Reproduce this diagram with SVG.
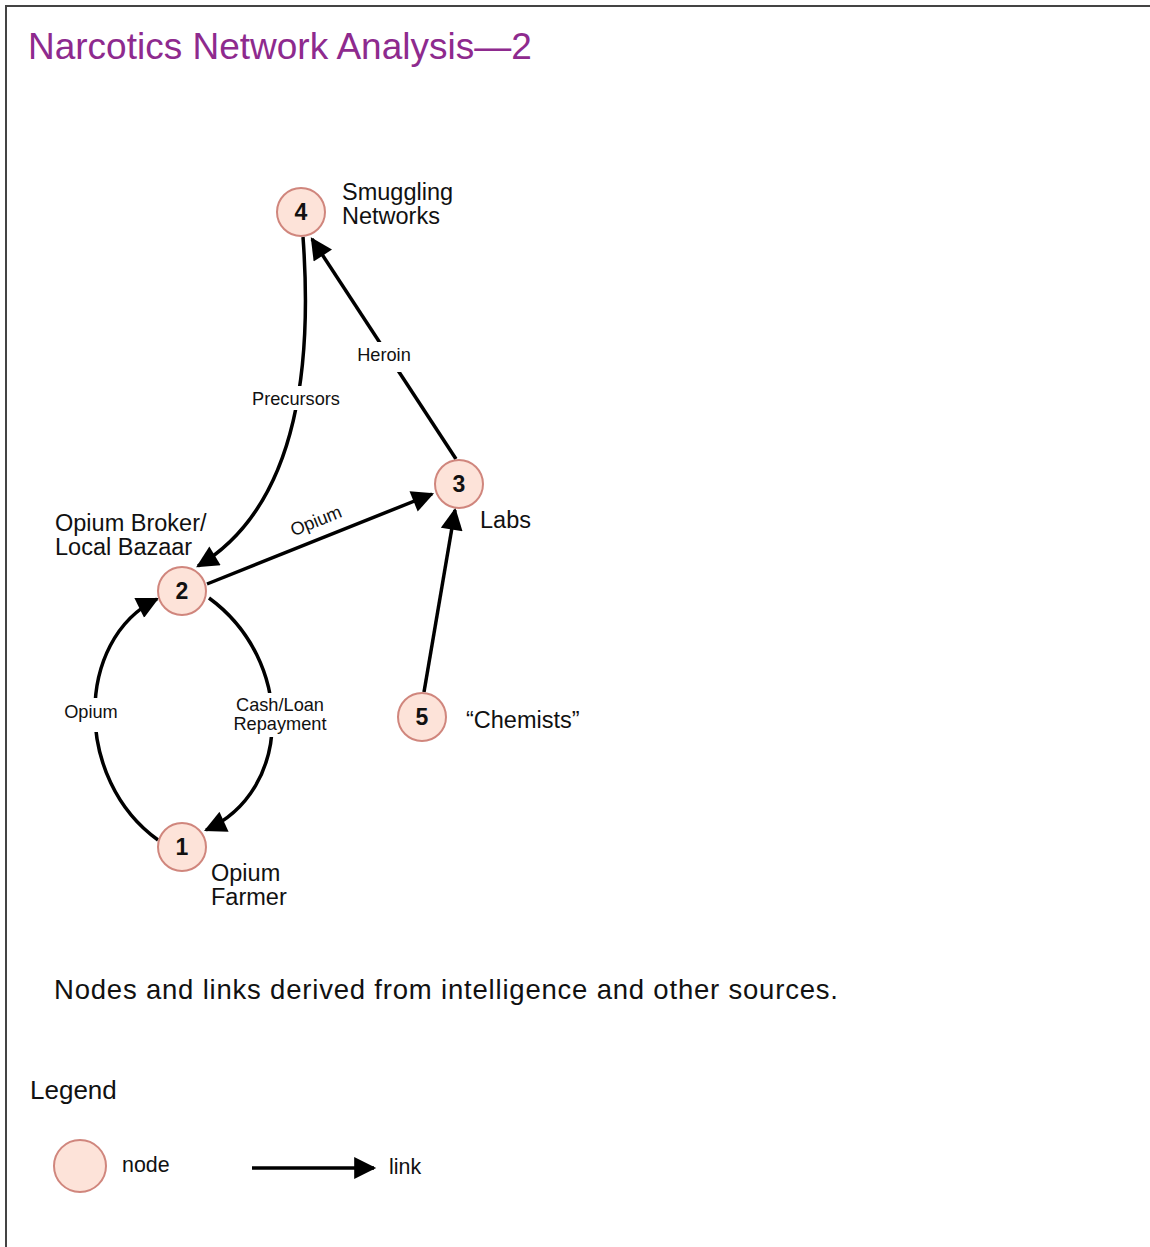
<svg xmlns="http://www.w3.org/2000/svg" width="1150" height="1247" viewBox="0 0 1150 1247">
  <defs>
    <style>
      text { font-family: "Liberation Sans", Arial, sans-serif; fill: #111; }
      .title { font-size: 37px; fill: #8e2a8e; }
      .node circle { fill: #fde3d9; stroke: #d0867d; stroke-width: 2; }
      .node .num { font-size: 23px; font-weight: bold; text-anchor: middle; }
      .nlabel { font-size: 23.5px; }
      .elabel { font-size: 18.2px; text-anchor: middle; }
      .edge { fill: none; stroke: #000; stroke-width: 3.5; marker-end: url(#arrow); }
      .mask { fill: #fff; }
    </style>
    <marker id="arrow" viewBox="0 0 10 10" refX="9" refY="5" markerUnits="userSpaceOnUse" markerWidth="24" markerHeight="22" orient="auto">
      <path d="M0,0 L10,5 L0,10 Z" fill="#000"/>
    </marker>
  </defs>

  <rect x="0" y="0" width="1150" height="1247" fill="#fff"/>
  <!-- frame -->
  <path d="M6,1247 V6 H1150" fill="none" stroke="#444" stroke-width="2"/>

  <text class="title" x="28" y="59">Narcotics Network Analysis—2</text>

  <!-- links -->
  <g id="connectors">
    <path id="e4-2" class="edge" d="M303,237 C312,360 300,505 198,566"/>
    <path id="e3-4" class="edge" d="M456,459 L312,239"/>
    <path id="e2-3" class="edge" d="M207,584 L432,494"/>
    <path id="e5-3" class="edge" d="M424,692 L455,510"/>
    <path id="e1-2" class="edge" d="M158,840 C74,780 74,640 157,599"/>
    <path id="e2-1" class="edge" d="M209,598 C294,660 294,790 206,830"/>

    <rect class="mask" x="247" y="386" width="98" height="24"/>
    <text class="elabel" x="296" y="405">Precursors</text>
    <rect class="mask" x="352" y="342" width="64" height="30"/>
    <text class="elabel" x="384" y="361">Heroin</text>
    <text class="elabel" x="316" y="527" transform="rotate(-22 316 521)">Opium</text>
    <rect class="mask" x="60" y="698" width="64" height="34"/>
    <text class="elabel" x="91" y="718">Opium</text>
    <rect class="mask" x="228" y="693" width="104" height="44"/>
    <text class="elabel" x="280" y="711">Cash/Loan</text>
    <text class="elabel" x="280" y="730">Repayment</text>
  </g>

  <!-- nodes -->
  <g id="node4" class="node">
    <circle cx="301" cy="212" r="24"/>
    <text class="num" x="301" y="220">4</text>
    <text class="nlabel" x="342" y="200">Smuggling</text>
    <text class="nlabel" x="342" y="224">Networks</text>
  </g>
  <g id="node3" class="node">
    <circle cx="459" cy="484" r="24"/>
    <text class="num" x="459" y="492">3</text>
    <text class="nlabel" x="480" y="528">Labs</text>
  </g>
  <g id="node2" class="node">
    <circle cx="182" cy="591" r="24"/>
    <text class="num" x="182" y="599">2</text>
    <text class="nlabel" x="55" y="531">Opium Broker/</text>
    <text class="nlabel" x="55" y="555">Local Bazaar</text>
  </g>
  <g id="node5" class="node">
    <circle cx="422" cy="717" r="24"/>
    <text class="num" x="422" y="725">5</text>
    <text class="nlabel" x="466" y="728">“Chemists”</text>
  </g>
  <g id="node1" class="node">
    <circle cx="182" cy="847" r="24"/>
    <text class="num" x="182" y="855">1</text>
    <text class="nlabel" x="211" y="881">Opium</text>
    <text class="nlabel" x="211" y="905">Farmer</text>
  </g>

  <text x="54" y="999" font-size="27.5" textLength="784" lengthAdjust="spacing">Nodes and links derived from intelligence and other sources.</text>

  <!-- legend -->
  <g id="legend">
    <text x="30" y="1099" font-size="26">Legend</text>
    <g id="legend-node" class="node">
      <circle cx="80" cy="1166" r="26"/>
    </g>
    <text x="122" y="1172" font-size="21.4">node</text>
    <path id="legend-link" class="edge" d="M252,1168 L374,1168"/>
    <text x="389" y="1174" font-size="21.4">link</text>
  </g>
</svg>
